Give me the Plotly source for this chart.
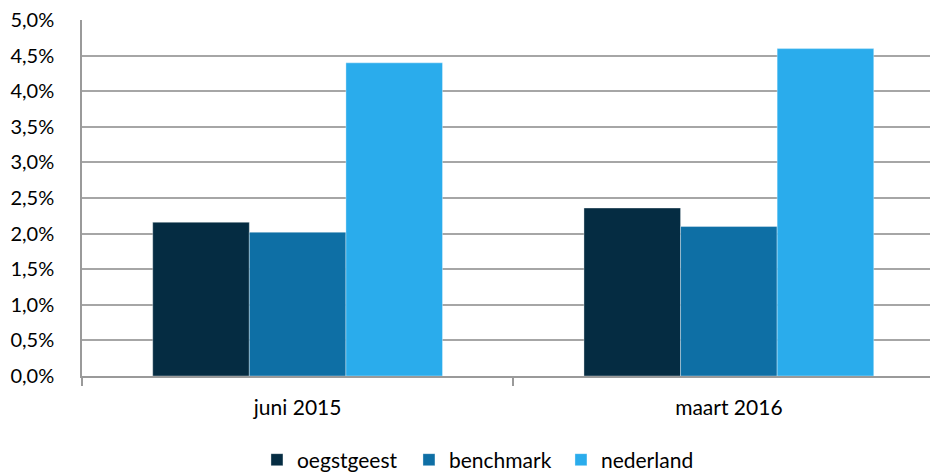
import plotly.graph_objects as go

categories = ["juni 2015", "maart 2016"]
oegstgeest = [0.0216, 0.0236]
benchmark = [0.0202, 0.0210]
nederland = [0.0440, 0.0460]
tick_vals = [0, 0.005, 0.01, 0.015, 0.02, 0.025, 0.03, 0.035, 0.04, 0.045, 0.05]
tick_text = ["0,0%", "0,5%", "1,0%", "1,5%", "2,0%", "2,5%", "3,0%", "3,5%", "4,0%", "4,5%", "5,0%"]

series = [("oegstgeest", oegstgeest, "#052C42"),
          ("benchmark", benchmark, "#0E6FA5"),
          ("nederland", nederland, "#2AACEC")]

fig = go.Figure()
for name, vals, col in series:
    fig.add_trace(go.Bar(x=categories, y=vals, name=name,
                         marker=dict(color=col, line=dict(color="rgba(255,255,255,0.5)", width=0.7))))

font = "Lato, 'Open Sans', sans-serif"
fig.update_layout(
    width=930, height=466,
    margin=dict(l=74, r=0, t=12, b=98, autoexpand=False),
    paper_bgcolor="white", plot_bgcolor="white",
    barmode="group", bargap=0.328, bargroupgap=0,
    font=dict(family=font, size=21, color="black"),
    showlegend=True,
    legend=dict(orientation="h", x=0.2044, xanchor="left",
                yref="container", y=0.030, yanchor="middle",
                font=dict(size=21), entrywidth=107, entrywidthmode="pixels",
                traceorder="normal", itemclick=False),
)
fig.update_xaxes(type="category", range=[-0.5, 1.485], showline=True, linecolor="#9A9A9A",
                 linewidth=1.5, ticks="outside", tickson="boundaries", ticklen=8,
                 tickcolor="#9A9A9A", tickwidth=1.5, showgrid=False, ticklabelstandoff=12,
                 tickfont=dict(size=21))
fig.update_yaxes(range=[0, 0.05002], tickvals=tick_vals, ticktext=tick_text,
                 showline=True, linecolor="#9A9A9A", linewidth=1.5,
                 showgrid=True, gridcolor="#A6A6A6", gridwidth=1.5,
                 zeroline=False, ticks="", ticklabelstandoff=22, ticklabeloverflow="allow",
                 tickfont=dict(size=20))

fig.write_html("out.html")
